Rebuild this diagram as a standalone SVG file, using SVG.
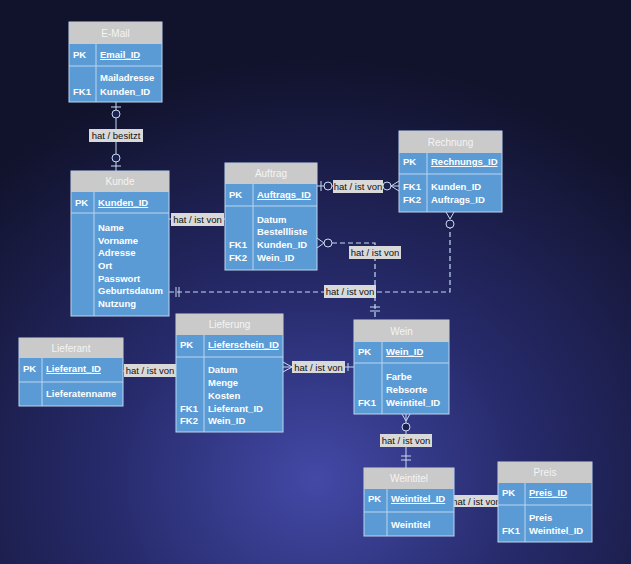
<svg xmlns="http://www.w3.org/2000/svg" width="631" height="564" viewBox="0 0 631 564">
<defs>
<radialGradient id="bg" cx="0.5" cy="0.85" r="0.75">
<stop offset="0" stop-color="#4349a6"/>
<stop offset="0.45" stop-color="#262a6a"/>
<stop offset="1" stop-color="#11122b"/>
</radialGradient>
<style>
.hd{fill:#cacaca;}
.bd{fill:#5b9bd5;stroke:#bcd5ef;stroke-width:1;}
.dv{stroke:#bcd5ef;stroke-width:1;fill:none;}
.ht{font-family:"Liberation Sans",Arial,sans-serif;font-size:10px;fill:#f4f4f4;text-anchor:middle;}
.t{font-family:"Liberation Sans",Arial,sans-serif;font-size:9.5px;font-weight:bold;fill:#ffffff;}
.u{text-decoration:underline;}
.ln{stroke:#c6daf2;stroke-width:1;fill:none;}
.ds{stroke:#c6daf2;stroke-width:1.2;fill:none;stroke-dasharray:5,3;}
.cc{stroke:#c6daf2;stroke-width:1;fill:#1e2150;}
.lb{fill:#d9d9d9;}
.lt{font-family:"Liberation Sans",Arial,sans-serif;font-size:9.5px;fill:#111;text-anchor:middle;}
</style>
</defs>
<rect width="631" height="564" fill="url(#bg)"/>

<g id="connectors">
<!-- E-Mail - Kunde -->
<path class="ln" d="M116 102V171M111 107H121M111 166H121"/>
<circle class="cc" cx="116" cy="114" r="4"/>
<circle class="cc" cx="116" cy="158" r="4"/>
<rect class="lb" x="89" y="129" width="54" height="13"/>
<text class="lt" x="116" y="139">hat / besitzt</text>
<!-- Kunde - Auftrag -->
<path class="ln" d="M169 219H225"/>
<rect class="lb" x="171" y="213" width="53" height="13"/>
<text class="lt" x="197.5" y="223">hat / ist von</text>
<!-- Auftrag - Rechnung -->
<path class="ln" d="M317 186H399M321 181V191M391 186L399 181M391 186L399 191"/>
<circle class="cc" cx="328" cy="186" r="4"/>
<circle class="cc" cx="387" cy="186" r="4"/>
<rect class="lb" x="333" y="180" width="50" height="13"/>
<text class="lt" x="358" y="190">hat / ist von</text>
<!-- Auftrag - Wein (dashed) -->
<path class="ds" d="M332 243H375V320"/>
<path class="ln" d="M317 238L324 243L317 248M370 307H380M370 311H380"/>
<circle class="cc" cx="328" cy="243" r="4"/>
<!-- Kunde - Rechnung (dashed) -->
<path class="ds" d="M169 292H450V228"/>
<path class="ln" d="M176 287V297M179 287V297M450 219L446 212M450 219L454 212"/>
<circle class="cc" cx="450" cy="224" r="4"/>
<rect class="lb" x="349" y="246" width="52" height="13"/>
<text class="lt" x="375" y="256">hat / ist von</text>
<rect class="lb" x="324" y="285" width="52" height="13"/>
<text class="lt" x="350" y="295">hat / ist von</text>
<!-- Lieferant - Lieferung -->
<path class="ln" d="M123 371H176"/>
<rect class="lb" x="124" y="364" width="52" height="13"/>
<text class="lt" x="150" y="374">hat / ist von</text>
<!-- Lieferung - Wein -->
<path class="ln" d="M283 367H354M283 362L292 367L283 372M348 363V371"/>
<rect class="lb" x="292" y="361" width="53" height="12"/>
<text class="lt" x="318.5" y="370.5">hat / ist von</text>
<!-- Wein - Weintitel -->
<path class="ln" d="M406 414V468M402 414L406 421L410 414M401 456H411M401 460H411"/>
<circle class="cc" cx="406" cy="427" r="4"/>
<rect class="lb" x="380" y="434" width="52" height="13"/>
<text class="lt" x="406" y="444">hat / ist von</text>
<!-- Weintitel - Preis -->
<path class="ln" d="M454 501H498"/>
<rect class="lb" x="451" y="495" width="51" height="12"/>
<text class="lt" x="476.5" y="504.5">hat / ist von</text>
</g>

<g id="email">
<rect class="bd" x="69" y="22" width="93" height="80"/>
<rect class="hd" x="69" y="22" width="93" height="22"/>
<path class="dv" d="M69 66H162M96 44V102"/>
<text class="ht" x="115.5" y="37">E-Mail</text>
<text class="t" x="73" y="58">PK</text>
<text class="t u" x="100" y="58">Email_ID</text>
<text class="t" x="100" y="81">Mailadresse</text>
<text class="t" x="73" y="95">FK1</text>
<text class="t" x="100" y="95">Kunden_ID</text>
</g>

<g id="kunde">
<rect class="bd" x="71" y="171" width="98" height="145"/>
<rect class="hd" x="71" y="171" width="98" height="21"/>
<path class="dv" d="M71 213H169M94 192V316"/>
<text class="ht" x="120" y="185">Kunde</text>
<text class="t" x="75" y="206">PK</text>
<text class="t u" x="98" y="206">Kunden_ID</text>
<text class="t" x="98" y="231">Name</text>
<text class="t" x="98" y="244">Vorname</text>
<text class="t" x="98" y="256">Adresse</text>
<text class="t" x="98" y="269">Ort</text>
<text class="t" x="98" y="282">Passwort</text>
<text class="t" x="98" y="294">Geburtsdatum</text>
<text class="t" x="98" y="307">Nutzung</text>
</g>

<g id="auftrag">
<rect class="bd" x="225" y="163" width="92" height="107"/>
<rect class="hd" x="225" y="163" width="92" height="21"/>
<path class="dv" d="M225 206H317M253 184V270"/>
<text class="ht" x="271" y="177">Auftrag</text>
<text class="t" x="229" y="198">PK</text>
<text class="t u" x="257" y="198">Auftrags_ID</text>
<text class="t" x="257" y="223">Datum</text>
<text class="t" x="257" y="235">Bestellliste</text>
<text class="t" x="229" y="248">FK1</text>
<text class="t" x="257" y="248">Kunden_ID</text>
<text class="t" x="229" y="261">FK2</text>
<text class="t" x="257" y="261">Wein_ID</text>
</g>

<g id="rechnung">
<rect class="bd" x="399" y="131" width="103" height="81"/>
<rect class="hd" x="399" y="131" width="103" height="22"/>
<path class="dv" d="M399 174H502M427 153V212"/>
<text class="ht" x="450.5" y="146">Rechnung</text>
<text class="t" x="403" y="165">PK</text>
<text class="t u" x="431" y="165">Rechnungs_ID</text>
<text class="t" x="403" y="190">FK1</text>
<text class="t" x="431" y="190">Kunden_ID</text>
<text class="t" x="403" y="203">FK2</text>
<text class="t" x="431" y="203">Auftrags_ID</text>
</g>

<g id="lieferant">
<rect class="bd" x="19" y="338" width="104" height="68"/>
<rect class="hd" x="19" y="338" width="104" height="20"/>
<path class="dv" d="M19 382H123M42 358V406"/>
<text class="ht" x="71" y="352">Lieferant</text>
<text class="t" x="23" y="372">PK</text>
<text class="t u" x="46" y="372">Lieferant_ID</text>
<text class="t" x="46" y="397">Lieferatenname</text>
</g>

<g id="lieferung">
<rect class="bd" x="176" y="314" width="107" height="118"/>
<rect class="hd" x="176" y="314" width="107" height="21"/>
<path class="dv" d="M176 357H283M204 335V432"/>
<text class="ht" x="229.5" y="328">Lieferung</text>
<text class="t" x="180" y="348">PK</text>
<text class="t u" x="208" y="348">Lieferschein_ID</text>
<text class="t" x="208" y="373">Datum</text>
<text class="t" x="208" y="386">Menge</text>
<text class="t" x="208" y="399">Kosten</text>
<text class="t" x="180" y="412">FK1</text>
<text class="t" x="208" y="412">Lieferant_ID</text>
<text class="t" x="180" y="424">FK2</text>
<text class="t" x="208" y="424">Wein_ID</text>
</g>

<g id="wein">
<rect class="bd" x="354" y="320" width="95" height="94"/>
<rect class="hd" x="354" y="320" width="95" height="22"/>
<path class="dv" d="M354 363H449M382 342V414"/>
<text class="ht" x="401.5" y="335">Wein</text>
<text class="t" x="358" y="355">PK</text>
<text class="t u" x="386" y="355">Wein_ID</text>
<text class="t" x="386" y="380">Farbe</text>
<text class="t" x="386" y="393">Rebsorte</text>
<text class="t" x="358" y="406">FK1</text>
<text class="t" x="386" y="406">Weintitel_ID</text>
</g>

<g id="weintitel">
<rect class="bd" x="364" y="468" width="90" height="68"/>
<rect class="hd" x="364" y="468" width="90" height="21"/>
<path class="dv" d="M364 512H454M387 489V536"/>
<text class="ht" x="409" y="482">Weintitel</text>
<text class="t" x="368" y="502">PK</text>
<text class="t u" x="391" y="502">Weintitel_ID</text>
<text class="t" x="391" y="528">Weintitel</text>
</g>

<g id="preis">
<rect class="bd" x="498" y="462" width="94" height="80"/>
<rect class="hd" x="498" y="462" width="94" height="21"/>
<path class="dv" d="M498 505H592M525 483V542"/>
<text class="ht" x="545" y="476">Preis</text>
<text class="t" x="502" y="496">PK</text>
<text class="t u" x="529" y="496">Preis_ID</text>
<text class="t" x="529" y="521">Preis</text>
<text class="t" x="502" y="534">FK1</text>
<text class="t" x="529" y="534">Weintitel_ID</text>
</g>
</svg>
